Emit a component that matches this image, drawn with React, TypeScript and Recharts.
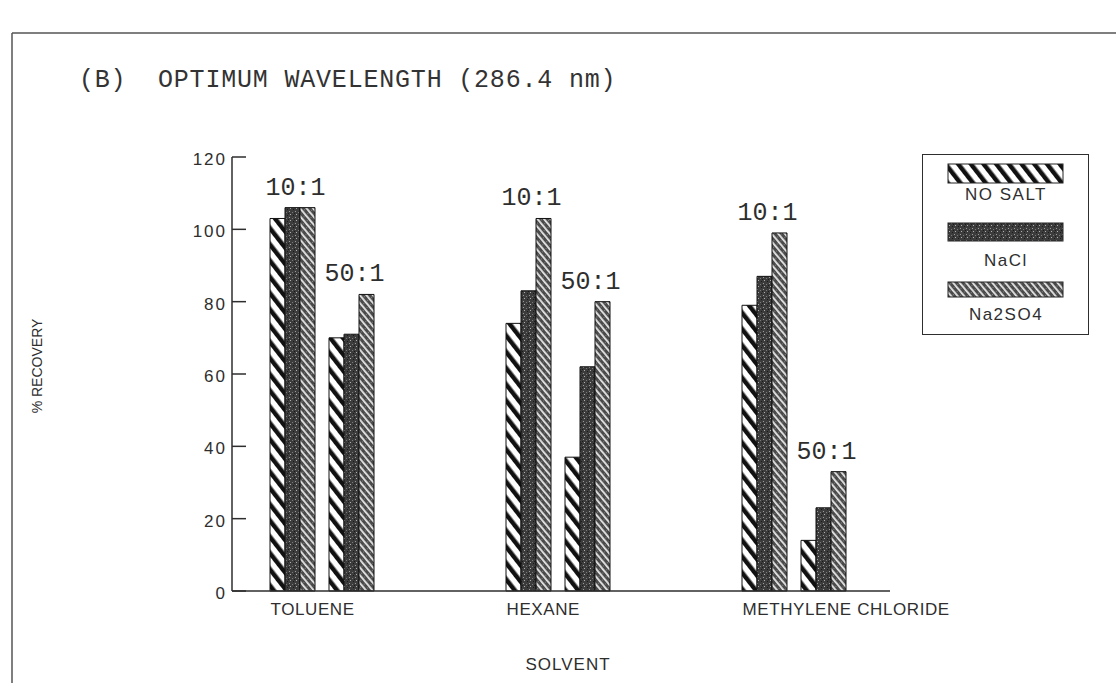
import React from 'react';
import { BarChart, Bar, XAxis, YAxis, Legend, LabelList } from 'recharts';

const solvents = ['TOLUENE', 'HEXANE', 'METHYLENE CHLORIDE'];
const ratios = ['10:1', '50:1'];
const noSalt = [103, 70, 74, 37, 79, 14];
const naCl = [106, 71, 83, 62, 87, 23];
const na2so4 = [106, 82, 103, 80, 99, 33];
const yTicks = [0, 20, 40, 60, 80, 100, 120];
const seriesNames = ['NO SALT', 'NaCl', 'Na2SO4'];
const title = '(B)  OPTIMUM WAVELENGTH (286.4 nm)';
const xTitle = 'SOLVENT';
const yTitle = '% RECOVERY';

type Row = { key: string; solvent: string; ratio: string; noSalt?: number; naCl?: number; na2so4?: number };
const data: Row[] = [];
solvents.forEach((s, si) => {
  ratios.forEach((r, ri) => {
    const i = si * 2 + ri;
    data.push({ key: `${s} ${r}`, solvent: ri === 0 ? s : '', ratio: r, noSalt: noSalt[i], naCl: naCl[i], na2so4: na2so4[i] });
  });
  if (si < solvents.length - 1) {
    data.push({ key: `gap-${si}-a`, solvent: '', ratio: '' });
    data.push({ key: `gap-${si}-b`, solvent: '', ratio: '' });
  }
});
const solventByKey: Record<string, string> = {};
data.forEach((d) => { solventByKey[d.key] = d.solvent; });

const INK = '#2e2e2e';
const SANS = '"Liberation Sans", Arial, sans-serif';
const MONO = '"Liberation Mono", "DejaVu Sans Mono", monospace';

const YTick = (props: any) => {
  const { x, y, payload } = props;
  return (
    <g>
      <line x1={x} x2={x + 14} y1={y} y2={y} stroke={INK} strokeWidth={1.5} />
      <text x={x - 5} y={y} dy={8} textAnchor="end" fontSize={17} fontFamily={SANS} fill={INK} letterSpacing={2}>
        {payload.value}
      </text>
    </g>
  );
};

const XTick = (props: any) => {
  const { x, y, payload } = props;
  const label = solventByKey[payload.value];
  if (!label) return null;
  return (
    <text x={x - 22} y={y + 24} textAnchor="start" fontSize={17} fontFamily={SANS} fill={INK} letterSpacing={0.6}>
      {label}
    </text>
  );
};

const RatioLabel = (props: any) => {
  const { x, y, width, value } = props;
  if (!value) return null;
  return (
    <text x={x - width / 2 + 3} y={y - 13} textAnchor="middle" fontSize={25} fontFamily={MONO} fill={INK}>
      {value}
    </text>
  );
};

const YLabel = (props: any) => {
  const vb = props.viewBox;
  const cx = vb.x - 135;
  const cy = vb.y + vb.height / 2 - 8;
  return (
    <text x={cx} y={cy} transform={`rotate(-90 ${cx} ${cy})`} textAnchor="middle" dy={5} fontSize={14} fontFamily={SANS} fill={INK}>
      {yTitle}
    </text>
  );
};

const XLabel = (props: any) => {
  const vb = props.viewBox;
  return (
    <text x={vb.x + vb.width / 2 + 7} y={vb.y + 79} textAnchor="middle" fontSize={17} fontFamily={SANS} fill={INK} letterSpacing={1}>
      {xTitle}
    </text>
  );
};

const fills = ['url(#pNoSalt)', 'url(#pNaCl)', 'url(#pNa2SO4)'];

const renderLegend = () => {
  const sw = [
    { y: 9, h: 19, ty: 45 },
    { y: 68, h: 18, ty: 111 },
    { y: 127, h: 15, ty: 165 },
  ];
  return (
    <div style={{ width: 167, height: 181, border: `1.5px solid ${INK}`, background: '#fff', boxSizing: 'border-box' }}>
      <svg width={164} height={178} style={{ display: 'block' }}>
        {seriesNames.map((n, i) => (
          <g key={n}>
            <rect x={25} y={sw[i].y} width={115} height={sw[i].h} fill={fills[i]} stroke="#222" strokeWidth={1} />
            <text x={83} y={sw[i].ty} textAnchor="middle" fontSize={17} fontFamily={SANS} fill={INK} letterSpacing={1.5}>{n}</text>
          </g>
        ))}
      </svg>
    </div>
  );
};

export default function App() {
  return (
    <div style={{ position: 'absolute', left: 0, top: 0, width: 1116, height: 683, background: '#fff', overflow: 'hidden' }}>
      <BarChart
        width={1116}
        height={683}
        data={data}
        margin={{ top: 157, right: 226, bottom: 62, left: 172 }}
        barSize={15}
        barGap={0}
      >
        <XAxis
          dataKey="key"
          height={30}
          padding={{ left: 31, right: 37 }}
          axisLine={{ stroke: INK, strokeWidth: 1.5 }}
          tickLine={false}
          tickSize={0}
          tickMargin={0}
          interval={0}
          tick={<XTick />}
          label={<XLabel />}
        />
        <YAxis
          width={60}
          domain={[0, 120]}
          ticks={yTicks}
          interval={0}
          axisLine={{ stroke: INK, strokeWidth: 1.5 }}
          tickLine={false}
          tickSize={0}
          tickMargin={0}
          tick={<YTick />}
          label={<YLabel />}
        />
        <Legend layout="vertical" align="center" verticalAlign="middle" content={renderLegend}
          wrapperStyle={{ left: 922, top: 154, width: 167, height: 181 }} />
        <Bar dataKey="noSalt" name={seriesNames[0]} fill={fills[0]} stroke="#111" strokeWidth={1} isAnimationActive={false} />
        <Bar dataKey="naCl" name={seriesNames[1]} fill={fills[1]} stroke="#111" strokeWidth={1} isAnimationActive={false} />
        <Bar dataKey="na2so4" name={seriesNames[2]} fill={fills[2]} stroke="#111" strokeWidth={1} isAnimationActive={false}>
          <LabelList dataKey="ratio" content={<RatioLabel />} />
        </Bar>
      </BarChart>
      <svg width={1116} height={683} style={{ position: 'absolute', left: 0, top: 0, pointerEvents: 'none' }}>
        <defs>
          <pattern id="pNoSalt" patternUnits="userSpaceOnUse" width={10} height={10} patternTransform="rotate(-38)">
            <rect x={0} y={0} width={10} height={10} fill="#fff" />
            <rect x={0} y={0} width={4.5} height={10} fill="#111" />
          </pattern>
          <pattern id="pNaCl" patternUnits="userSpaceOnUse" width={6} height={6}>
            <rect x={0} y={0} width={6} height={6} fill="#3c3c3c" />
            <rect x={1} y={1} width={1} height={1} fill="#9a9a9a" />
            <rect x={4} y={2} width={1} height={1} fill="#7a7a7a" />
            <rect x={2} y={4} width={1} height={1} fill="#b0b0b0" />
            <rect x={5} y={5} width={1} height={1} fill="#1a1a1a" />
            <rect x={0} y={3} width={1} height={1} fill="#1a1a1a" />
          </pattern>
          <pattern id="pNa2SO4" patternUnits="userSpaceOnUse" width={5} height={5} patternTransform="rotate(-40)">
            <rect x={0} y={0} width={5} height={5} fill="#4a4a4a" />
            <rect x={0} y={0} width={1.8} height={5} fill="#e8e8e8" />
            <rect x={3} y={1} width={1} height={1} fill="#888" />
          </pattern>
        </defs>
        <line x1={12} y1={33} x2={1116} y2={33} stroke="#555" strokeWidth={1.5} />
        <line x1={12} y1={33} x2={12} y2={683} stroke="#555" strokeWidth={1.5} />
        <text x={79} y={87} fontSize={25} fontFamily={MONO} fill="#333" letterSpacing={0.8} style={{ whiteSpace: 'pre' }}>{title}</text>
      </svg>
    </div>
  );
}
